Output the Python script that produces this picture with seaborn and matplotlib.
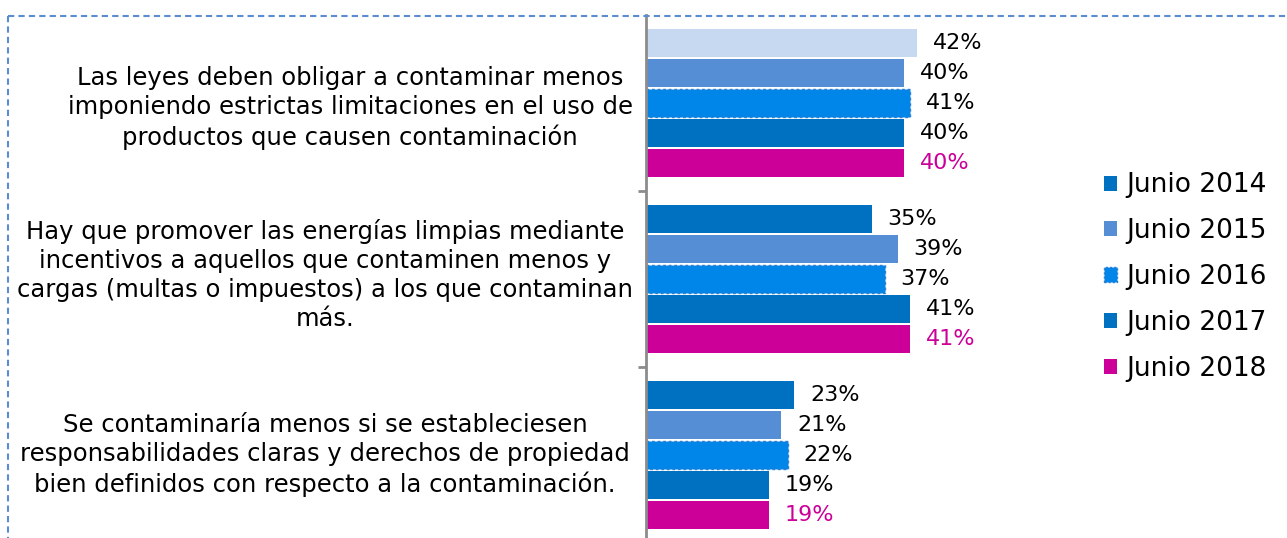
import numpy as np
import pandas as pd
import seaborn as sns
import matplotlib
matplotlib.use("Agg")
import matplotlib.pyplot as plt
import matplotlib.transforms as mtransforms
from matplotlib.patches import Patch
from matplotlib.lines import Line2D

# ---------------- data ----------------
categories = [
    "Las leyes deben obligar a contaminar menos\nimponiendo estrictas limitaciones en el uso de\nproductos que causen contaminación",
    "Hay que promover las energías limpias mediante\nincentivos a aquellos que contaminen menos y\ncargas (multas o impuestos) a los que contaminan\nmás.",
    "Se contaminaría menos si se estableciesen\nresponsabilidades claras y derechos de propiedad\nbien definidos con respecto a la contaminación.",
]
series = ["Junio 2014", "Junio 2015", "Junio 2016", "Junio 2017", "Junio 2018"]
junio_2014 = [42, 35, 23]
junio_2015 = [40, 39, 21]
junio_2016 = [41, 37, 22]
junio_2017 = [40, 41, 19]
junio_2018 = [40, 41, 19]
values = [junio_2014, junio_2015, junio_2016, junio_2017, junio_2018]

# ---------------- styles ----------------
DARK = "#0070C0"
MID = "#558ED5"
BRIGHT = "#0085E8"
MAGENTA = "#CC0099"
LIGHT = "#C6D9F1"
series_colors = [DARK, MID, BRIGHT, DARK, MAGENTA]
bar_colors = [
    [LIGHT, DARK, DARK],
    [MID, MID, MID],
    [BRIGHT, BRIGHT, BRIGHT],
    [DARK, DARK, DARK],
    [MAGENTA, MAGENTA, MAGENTA],
]
label_colors = ["black", "black", "black", "black", MAGENTA]
cat_label_centers_px = [350, 325, 325]
cat_label_dy_px = [-5, 4, 0]

rows = []
for s, vals in zip(series, values):
    for c, v in zip(categories, vals):
        rows.append({"cat": c, "serie": s, "valor": v})
df = pd.DataFrame(rows)

sns.set_theme(style="white")
plt.rcParams["font.family"] = ["DejaVu Sans"]
plt.rcParams["text.color"] = "black"

W, H = 1287, 538
fig = plt.figure(figsize=(W / 100, H / 100), dpi=100)
ax_left, ax_right = 646, 1080
ax_top, ax_bottom = 15, 543
ax = fig.add_axes([ax_left / W, 1 - ax_bottom / H,
                   (ax_right - ax_left) / W, (ax_bottom - ax_top) / H])

sns.barplot(data=df, y="cat", x="valor", hue="serie", order=categories,
            hue_order=series, orient="h", width=0.852, gap=0.07,
            palette=series_colors, ax=ax, legend=False, saturation=1)

px_per_unit = 6.45
ax.set_xlim(0, (ax_right - ax_left) / px_per_unit)
ax.set_ylim(2.5, -0.5)

for h, cont in enumerate(ax.containers):
    for i, bar in enumerate(cont):
        bar.set_facecolor(bar_colors[h][i])
        if h == 2:
            bar.set_edgecolor("#2F7FD0")
            bar.set_linestyle((0, (2, 2)))
            bar.set_linewidth(1.0)
        else:
            bar.set_edgecolor("none")
        v = values[h][i]
        ax.annotate(f"{v}%", xy=(bar.get_width(), bar.get_y() + bar.get_height() / 2),
                    xytext=(11.5, 0), textcoords="offset points",
                    ha="left", va="center", fontsize=16, color=label_colors[h])

# axes styling
for sp in ["top", "right", "bottom"]:
    ax.spines[sp].set_visible(False)
ax.spines["left"].set_color("#8C8C8C")
ax.spines["left"].set_linewidth(2)
ax.set_xlabel("")
ax.set_ylabel("")
ax.set_xticks([])
ax.set_yticks([0.5, 1.5])
ax.set_yticklabels([])
ax.tick_params(axis="y", which="major", left=True, length=6, width=2, color="#8C8C8C")

# category labels
base = mtransforms.blended_transform_factory(fig.transFigure, ax.transData)
for i, (cat, cx, dy) in enumerate(zip(categories, cat_label_centers_px, cat_label_dy_px)):
    tr = base + mtransforms.ScaledTranslation(0, dy / 100, fig.dpi_scale_trans)
    ax.text(cx / W, i, cat, transform=tr, ha="center", va="center",
            multialignment="center", fontsize=17.5, linespacing=1.28, color="black")

# legend
handles = []
for s, c in zip(series, series_colors):
    if s == "Junio 2016":
        handles.append(Patch(facecolor=c, edgecolor="#2F7FD0", linestyle=(0, (1.5, 1.5)), linewidth=1))
    else:
        handles.append(Patch(facecolor=c, edgecolor="none"))
fig.legend(handles, series, loc="center left", bbox_to_anchor=(1104 / W, 1 - 277 / H),
           frameon=False, fontsize=19, handlelength=0.5, handleheight=0.5,
           handletextpad=0.35, labelspacing=0.75, borderpad=0, borderaxespad=0,
           labelcolor="black")

# dashed border
bc = "#5B8BD0"
fig.add_artist(Line2D([8 / W, 1.0], [1 - 16 / H, 1 - 16 / H], transform=fig.transFigure,
                      color=bc, lw=1.5, linestyle=(0, (3, 2))))
fig.add_artist(Line2D([8 / W, 8 / W], [1 - 16 / H, 0.0], transform=fig.transFigure,
                      color=bc, lw=1.5, linestyle=(0, (3, 2))))

fig.savefig("out.png", dpi=100, facecolor="white")
